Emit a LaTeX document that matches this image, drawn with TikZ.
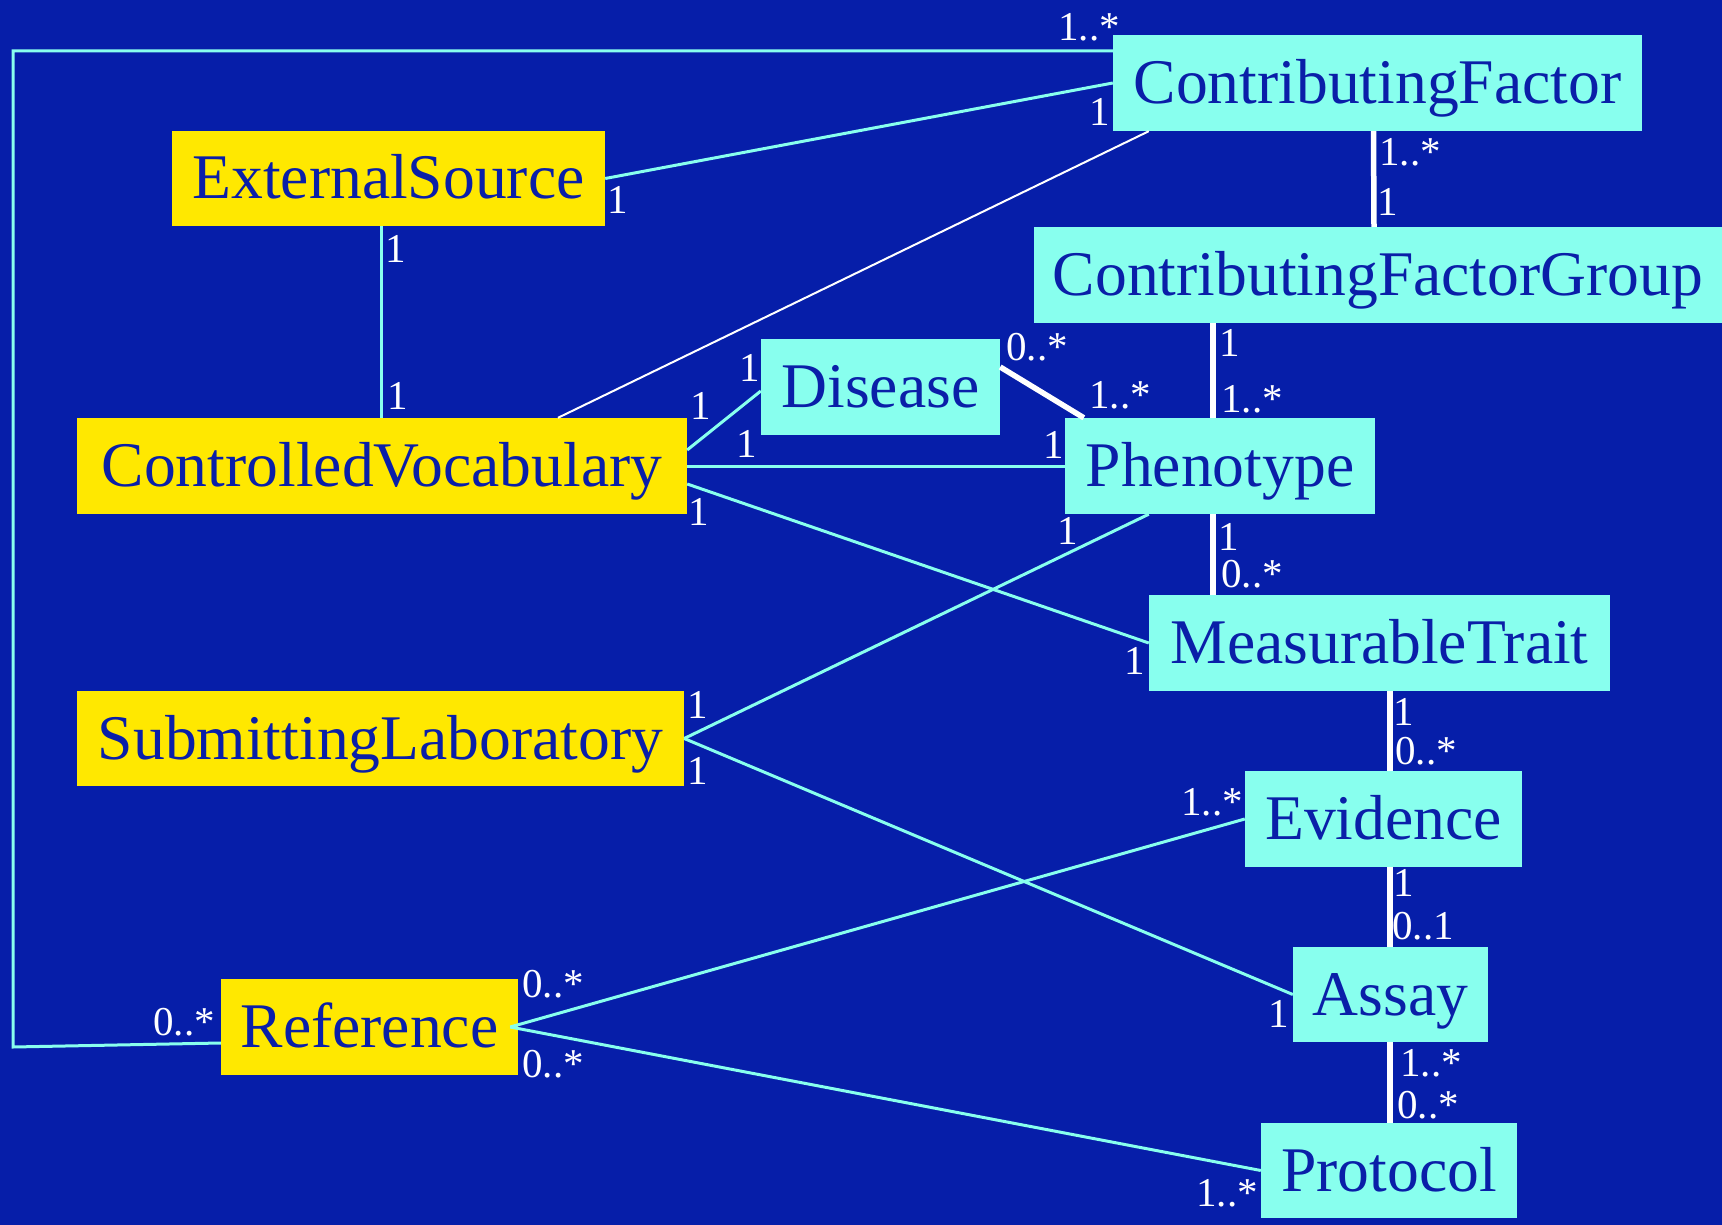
\documentclass[tikz,border=0pt]{standalone}
\usepackage{fontspec}
\setmainfont{Liberation Serif}
\definecolor{bgblue}{HTML}{061EA9}
\definecolor{yfill}{HTML}{FFE800}
\definecolor{cfill}{HTML}{88FFEE}
\definecolor{btext}{HTML}{0A1FA8}
\definecolor{cyanline}{HTML}{88FFEE}
\begin{document}
\begin{tikzpicture}[x=1pt,y=-1pt,
  box/.style={inner sep=0pt, text=btext, font=\fontsize{63.6pt}{70pt}\selectfont, text height=54pt, text depth=13pt, minimum height=96pt},
  ybox/.style={box, fill=yfill},
  cbox/.style={box, fill=cfill},
  mult/.style={inner sep=0pt, text=white, font=\fontsize{41pt}{45pt}\selectfont},
  cline/.style={draw=cyanline, line width=3pt},
  wthick/.style={draw=white, line width=5.5pt},
  wthin/.style={draw=white, line width=2pt}]
\fill[bgblue] (0,0) rectangle (1722,1225);
\useasboundingbox (0,0) rectangle (1722,1225);

% classes
\node[cbox, minimum width=529pt] (cf) at (1377.5,83) {ContributingFactor};
\node[ybox, minimum width=433pt, minimum height=95pt] (es) at (388.5,178.5) {ExternalSource};
\node[cbox, minimum width=688pt] (cfg) at (1378,275) {ContributingFactorGroup};
\node[cbox, minimum width=239pt] (dis) at (880.5,387) {Disease};
\node[ybox, minimum width=610pt] (cv) at (382,466) {ControlledVocabulary};
\node[cbox, minimum width=310pt] (ph) at (1220,466) {Phenotype};
\node[cbox, minimum width=461pt] (mt) at (1379.5,643) {MeasurableTrait};
\node[ybox, minimum width=607pt, minimum height=95pt] (sl) at (380.5,738.5) {SubmittingLaboratory};
\node[cbox, minimum width=277pt] (ev) at (1383.5,819) {Evidence};
\node[ybox, minimum width=297pt] (ref) at (369.5,1027) {Reference};
\node[cbox, minimum width=195pt, minimum height=95pt] (as) at (1390.5,994.5) {Assay};
\node[cbox, minimum width=256pt, minimum height=95pt] (pr) at (1389,1170.5) {Protocol};

% corner points of the outer connector
\coordinate (ctl) at (13,51);
\coordinate (cbl) at (13,1047);

% connectors
\draw[cline] ([yshift=32pt]cf.west) -- (ctl) -- (cbl) -- ([yshift=-16pt]ref.west);
\draw[cline] (es.east) -- (cf.west);
\draw[wthin] ([xshift=36pt]cf.south west) -- ([xshift=176pt]cv.north);
\draw[cline] ([xshift=-7.5pt]es.south) -- ([xshift=-1pt]cv.north);
\draw[cline] ([yshift=16pt]cv.east) -- ([yshift=-4pt]dis.west);
\draw[cline] (cv.east) -- (ph.west);
\draw[cline] ([yshift=-18pt]cv.east) -- (mt.west);
\draw[wthick] ([yshift=20pt]dis.east) -- ([xshift=19pt]ph.north west);
\draw[wthick] ([xshift=-4pt]cf.south) -- ([xshift=-4pt]cfg.north);
\draw[wthick] ([xshift=-165pt]cfg.south) -- ([xshift=-7pt]ph.north);
\draw[wthick] ([xshift=-7pt]ph.south) -- ([xshift=-166.5pt]mt.north);
\draw[cline] ([xshift=84pt]ph.south west) -- (sl.east);
\draw[cline] (sl.east) -- (as.west);
\draw[wthick] ([xshift=10.5pt]mt.south) -- ([xshift=6.5pt]ev.north);
\draw[wthick] ([xshift=6.5pt]ev.south) -- ([xshift=-0.5pt]as.north);
\draw[wthick] ([xshift=-0.5pt]as.south) -- ([xshift=1pt]pr.north);
\draw[cline] ([xshift=-8pt]ref.east) -- (ev.west);
\draw[cline] ([xshift=-8pt]ref.east) -- (pr.west);

% multiplicities
\node[mult] (m1) at (1089,27) {1..*};
\node[mult] (m2) at (184,1022) {0..*};
\node[mult] (m3) at (618,200) {1};
\node[mult] (m4) at (1100,112) {1};
\node[mult] (m5) at (396,249) {1};
\node[mult] (m6) at (398,396) {1};
\node[mult] (m7) at (701,406) {1};
\node[mult] (m8) at (750,368) {1};
\node[mult] (m9) at (747,444) {1};
\node[mult] (m10) at (1054,445) {1};
\node[mult] (m11) at (699,512) {1};
\node[mult] (m12) at (1135,661) {1};
\node[mult] (m13) at (1037,347) {0..*};
\node[mult] (m14) at (1120,395) {1..*};
\node[mult] (m15) at (1410,152) {1..*};
\node[mult] (m16) at (1388,202) {1};
\node[mult] (m17) at (1230,343) {1};
\node[mult] (m18) at (1252,399) {1..*};
\node[mult] (m19) at (1229,537) {1};
\node[mult] (m20) at (1252,574) {0..*};
\node[mult] (m21) at (1068,531) {1};
\node[mult] (m22) at (698,705) {1};
\node[mult] (m23) at (698,771) {1};
\node[mult] (m24) at (1279,1014) {1};
\node[mult] (m25) at (1404,712) {1};
\node[mult] (m26) at (1426,751) {0..*};
\node[mult] (m27) at (1404,883) {1};
\node[mult] (m28) at (1423,926) {0..1};
\node[mult] (m29) at (1431,1063) {1..*};
\node[mult] (m30) at (1428,1105) {0..*};
\node[mult] (m31) at (553,984) {0..*};
\node[mult] (m32) at (1212,802) {1..*};
\node[mult] (m33) at (553,1064) {0..*};
\node[mult] (m34) at (1227,1193) {1..*};
\end{tikzpicture}
\end{document}
